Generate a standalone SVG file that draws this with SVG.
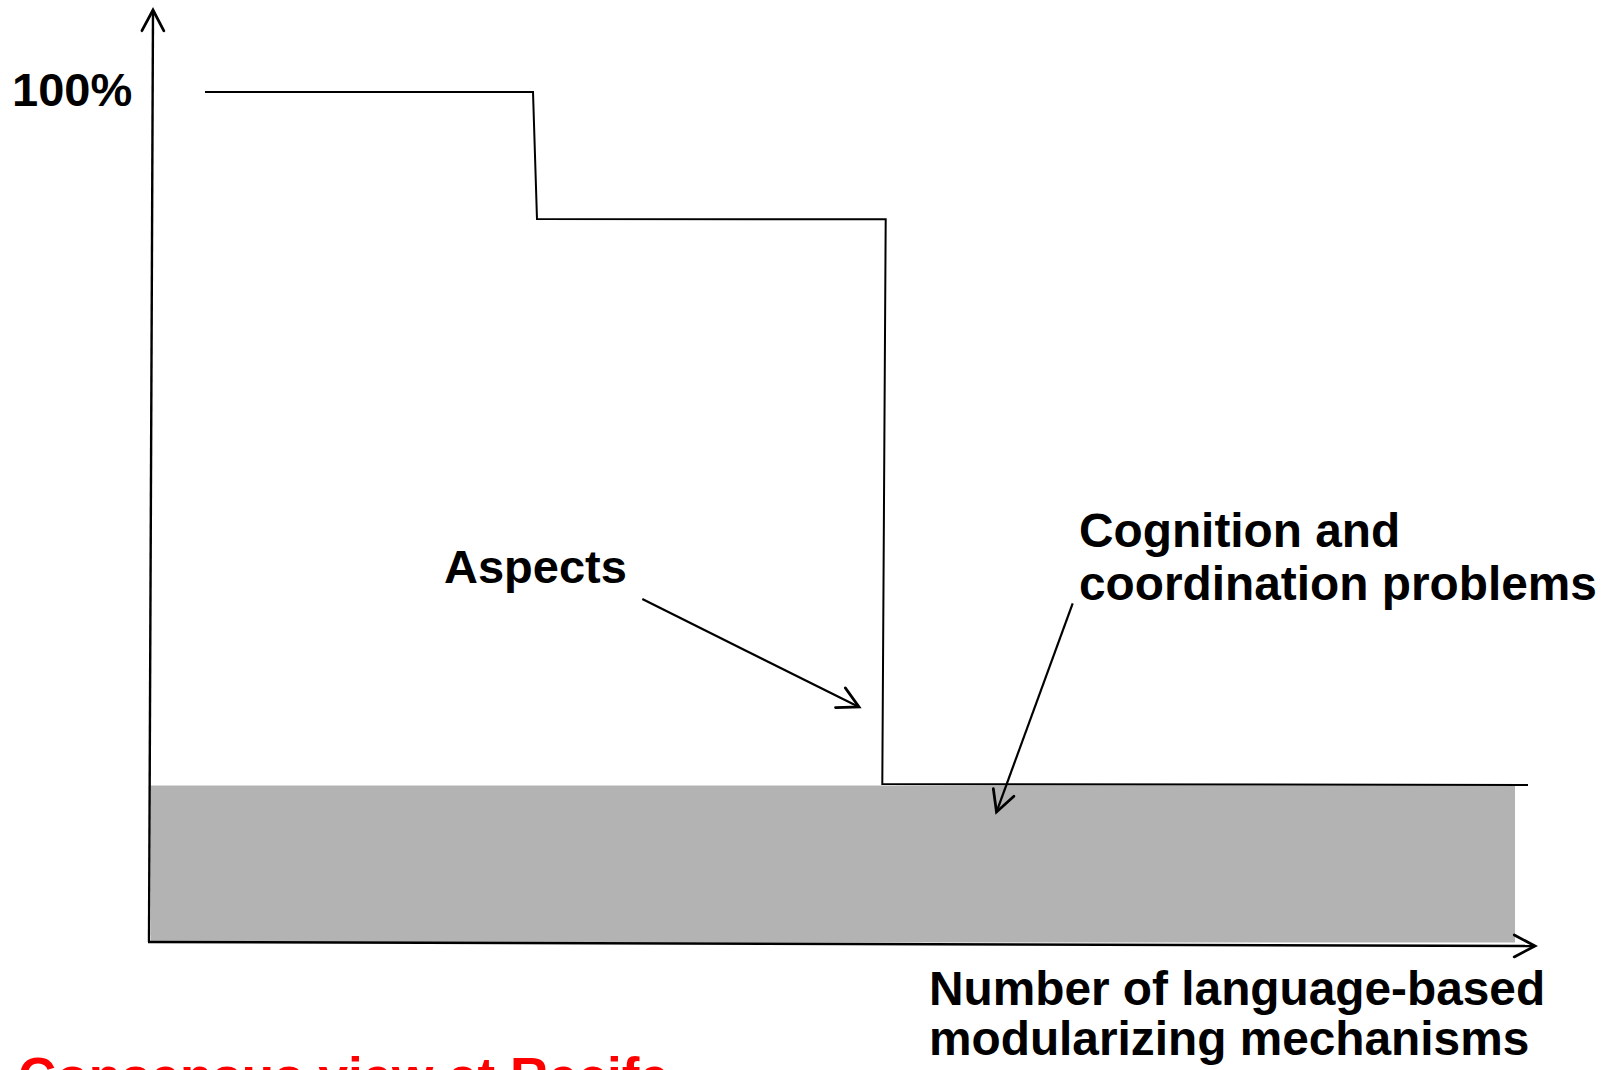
<svg xmlns="http://www.w3.org/2000/svg" width="1604" height="1070" viewBox="0 0 1604 1070">
  <style>
    .lbl { font-family: "Liberation Sans", Arial, sans-serif; font-weight: bold; font-size: 47px; fill: #000; }
    .lbl-wide { font-size: 47.8px; }
    .note { font-family: "Liberation Sans", Arial, sans-serif; font-weight: bold; font-size: 53px; fill: #ff0000; }
    .axis { stroke: #000; stroke-width: 2.4; fill: none; }
    .curve { stroke: #000; stroke-width: 2; fill: none; stroke-linejoin: miter; }
    .pointer { stroke: #000; stroke-width: 2.2; fill: none; }
  </style>
  <defs>
    <marker id="openArrow" markerUnits="userSpaceOnUse" markerWidth="30" markerHeight="30" viewBox="-22 -13 26 26" refX="0" refY="0" orient="auto">
      <path d="M -18 -9.5 L 0 0 L -18 9.5" fill="none" stroke="#000" stroke-width="2.4" stroke-linecap="round" stroke-linejoin="miter"/>
    </marker>
  </defs>
  <rect width="1604" height="1070" fill="#fff"/>

  <!-- baseline share: grey band under the curve -->
  <g id="base-band">
    <rect x="151" y="785.5" width="1364" height="157" fill="#b3b3b3"/>
  </g>

  <!-- axes -->
  <g id="axes">
    <line class="axis" x1="149" y1="942" x2="153" y2="10" marker-end="url(#openArrow)"/>
    <line class="axis" x1="148" y1="942" x2="1535" y2="946" marker-end="url(#openArrow)"/>
  </g>

  <!-- step curve -->
  <g id="step-curve">
    <polyline class="curve" points="205,92 533,92 537,219 885.7,219.3 882.3,784 1528,785"/>
  </g>

  <!-- pointers from the labels -->
  <g id="connectors">
    <line class="pointer" x1="642.3" y1="599" x2="859" y2="707" marker-end="url(#openArrow)"/>
    <line class="pointer" x1="1072.7" y1="603.3" x2="996.5" y2="812" marker-end="url(#openArrow)"/>
  </g>

  <g id="label-100">
    <text class="lbl" x="12" y="106">100%</text>
  </g>
  <g id="label-aspects">
    <text class="lbl" x="444" y="583">Aspects</text>
  </g>
  <g id="label-cognition">
    <text class="lbl lbl-wide" x="1079" y="547">Cognition and</text>
    <text class="lbl lbl-wide" x="1079" y="600">coordination problems</text>
  </g>
  <g id="label-x-axis">
    <text class="lbl lbl-wide" x="929" y="1005">Number of language-based</text>
    <text class="lbl lbl-wide" x="929" y="1055">modularizing mechanisms</text>
  </g>
  <g id="label-note">
    <text class="note" x="18" y="1095">Consensus view at Recife</text>
  </g>
</svg>
